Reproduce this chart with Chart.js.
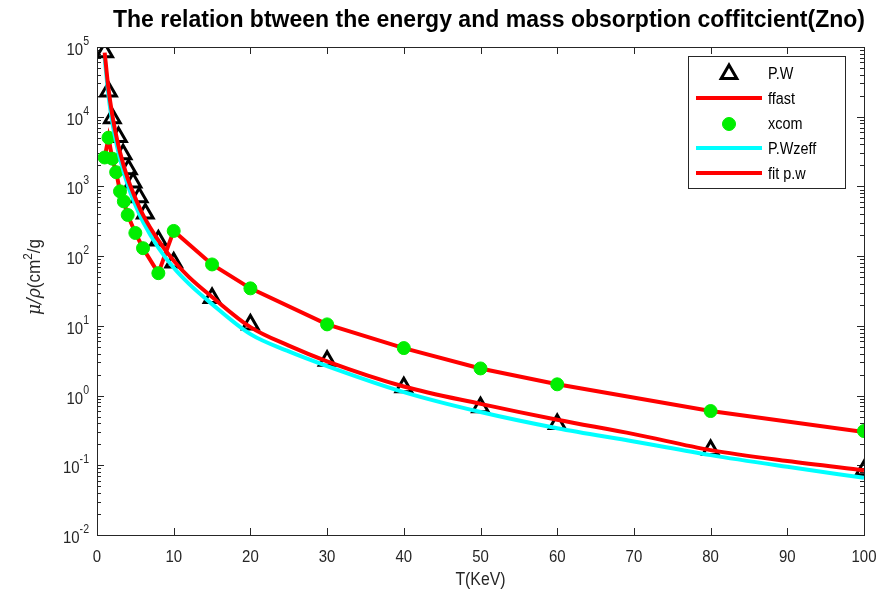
<!DOCTYPE html>
<html>
<head>
<meta charset="utf-8">
<script src="https://cdn.jsdelivr.net/npm/chart.js@4.4.1/dist/chart.umd.min.js"></script>
<style>
  html, body { margin: 0; padding: 0; background: #fff; }
  #wrap { width: 880px; height: 591px; }
</style>
</head>
<body>
<div id="wrap"><canvas id="chart" width="880" height="591"></canvas></div>
<script>
// ---- data ----
const pwEnergy = [1, 1.5, 2, 2.8, 3.4, 4.1, 4.7, 5.5, 6.3, 8, 10, 15, 20, 30, 40, 50, 60, 80, 100];
const pwValues = [84000, 23000, 9500, 5100, 2900, 1770, 1140, 700, 410, 168, 81, 25, 10.5, 3.15, 1.32, 0.68, 0.39, 0.165, 0.085];

const xcomEnergy = [1, 1.5, 2, 2.5, 3, 3.5, 4, 5, 6, 8, 10, 15, 20, 30, 40, 50, 60, 80, 100];
const xcomValues = [2600, 5000, 2500, 1600, 850, 610, 390, 215, 130, 57, 230, 76, 34.5, 10.5, 4.8, 2.45, 1.45, 0.6, 0.31];

const ffastEnergy = [1, 1.5, 2, 2.5, 3, 3.5, 4, 5, 6, 8, 10, 15, 20, 30, 40, 50, 60, 80, 100];
const ffastValues = [2600, 5000, 2500, 1600, 850, 610, 390, 215, 130, 57, 230, 76, 34.5, 10.5, 4.8, 2.45, 1.45, 0.6, 0.3];

const fitEnergy = [1, 1.5, 2, 2.5, 3, 4, 5, 6, 8, 10, 12, 15, 20, 25, 30, 40, 50, 60, 70, 80, 90, 100];
const fitValues = [83000, 25000, 10500, 5400, 3100, 1300, 680, 390, 168, 86, 50, 26, 9.6, 5.2, 3.1, 1.35, 0.76, 0.45, 0.28, 0.165, 0.115, 0.085];
const zeffValues = [70000, 20000, 8300, 4300, 2500, 1050, 540, 310, 132, 68, 40, 20.5, 7.6, 4.3, 2.65, 1.12, 0.58, 0.34, 0.22, 0.14, 0.095, 0.066];

const xTicks = [0, 10, 20, 30, 40, 50, 60, 70, 80, 90, 100];
const yTickExps = [-2, -1, 0, 1, 2, 3, 4, 5];

const titleText = "The relation btween the energy and mass obsorption coffitcient(Zno)";
const xLabel = "T(KeV)";

const pairs = (xs, ys) => xs.map((x, i) => ({ x: x, y: ys[i] }));

const AX = "#262626";
const FONT = "'Liberation Sans', Arial, sans-serif";

// text squeezed/stretched horizontally by sx
function drawText(ctx, txt, x, y, font, align, sx) {
  ctx.save();
  ctx.font = font;
  ctx.textBaseline = "alphabetic";
  const w = ctx.measureText(txt).width * sx;
  let left = x;
  if (align === "center") left = x - w / 2;
  if (align === "right") left = x - w;
  ctx.translate(left, y);
  ctx.scale(sx, 1);
  ctx.textAlign = "left";
  ctx.fillText(txt, 0, 0);
  ctx.restore();
  return w;
}

function textWidth(ctx, txt, font) {
  ctx.save();
  ctx.font = font;
  const w = ctx.measureText(txt).width;
  ctx.restore();
  return w;
}

const matlabAxes = {
  id: "matlabAxes",
  beforeDatasetsDraw(chart) {
    const ctx = chart.ctx;
    const a = chart.chartArea;
    const xs = chart.scales.x, ys = chart.scales.y;
    ctx.save();
    ctx.strokeStyle = AX;
    ctx.lineWidth = 1;
    ctx.beginPath();
    // x ticks top and bottom
    xTicks.forEach(v => {
      const px = Math.round(xs.getPixelForValue(v)) + 0.5;
      ctx.moveTo(px, a.bottom); ctx.lineTo(px, a.bottom - 7);
      ctx.moveTo(px, a.top); ctx.lineTo(px, a.top + 7);
    });
    // y ticks, major and minor
    for (let e = yTickExps[0]; e <= yTickExps[yTickExps.length - 1]; e++) {
      for (let m = 1; m <= 9; m++) {
        if (e === yTickExps[yTickExps.length - 1] && m > 1) break;
        const py = Math.round(ys.getPixelForValue(m * Math.pow(10, e))) + 0.5;
        const len = m === 1 ? 7 : 4;
        ctx.moveTo(a.left, py); ctx.lineTo(a.left + len, py);
        ctx.moveTo(a.right, py); ctx.lineTo(a.right - len, py);
      }
    }
    ctx.stroke();
    ctx.restore();
  },
  afterDatasetsDraw(chart) {
    const ctx = chart.ctx;
    const a = chart.chartArea;
    const xs = chart.scales.x, ys = chart.scales.y;
    ctx.save();
    ctx.strokeStyle = AX;
    ctx.lineWidth = 1;
    ctx.strokeRect(Math.round(a.left) + 0.5, Math.round(a.top) + 0.5,
      Math.round(a.right - a.left), Math.round(a.bottom - a.top));

    ctx.fillStyle = AX;
    // x tick labels
    xTicks.forEach(v => {
      drawText(ctx, String(v), xs.getPixelForValue(v), a.bottom + 27, "17px " + FONT, "center", 0.88);
    });
    // y tick labels 10^e
    yTickExps.forEach(e => {
      const py = ys.getPixelForValue(Math.pow(10, e));
      const expW = textWidth(ctx, String(e), "12px " + FONT) * 0.88;
      const right = a.left - 8;
      drawText(ctx, String(e), right, py - 2, "12px " + FONT, "right", 0.88);
      drawText(ctx, "10", right - expW, py + 8, "17px " + FONT, "right", 0.88);
    });
    // axis titles
    drawText(ctx, xLabel, (a.left + a.right) / 2, a.bottom + 50, "18px " + FONT, "center", 0.88);

    ctx.save();
    ctx.translate(40, 277);
    ctx.rotate(-Math.PI / 2);
    const fMu = "italic 19px 'DejaVu Serif', serif";
    const fTx = "19px " + FONT;
    const fSup = "13px " + FONT;
    const total = (textWidth(ctx, "\u03bc/\u03c1", fMu) + textWidth(ctx, "(cm", fTx) +
      textWidth(ctx, "2", fSup) + textWidth(ctx, "/g", fTx)) * 0.9;
    let x0 = -total / 2;
    x0 += drawText(ctx, "\u03bc/\u03c1", x0, 0, fMu, "left", 0.9);
    x0 += drawText(ctx, "(cm", x0, 0, fTx, "left", 0.9);
    x0 += drawText(ctx, "2", x0, -8, fSup, "left", 0.9);
    drawText(ctx, "/g", x0, 0, fTx, "left", 0.9);
    ctx.restore();

    // title
    ctx.fillStyle = "#000";
    const fTitle = "bold 23px " + FONT;
    const tsx = 752 / textWidth(ctx, titleText, fTitle);
    drawText(ctx, titleText, 489, 27, fTitle, "center", tsx);

    // legend box
    const lx = 688, ly = 56, lw = 157, lh = 132;
    ctx.fillStyle = "#fff";
    ctx.fillRect(lx, ly, lw, lh);
    ctx.strokeStyle = AX;
    ctx.lineWidth = 1;
    ctx.strokeRect(lx + 0.5, ly + 0.5, lw, lh);
    chart.data.datasets.forEach((ds, i) => {
      const cy = ly + 17 + i * 25;
      if (ds.showLine === false) {
        ctx.save();
        ctx.lineWidth = ds.borderWidth;
        ctx.strokeStyle = ds.borderColor;
        ctx.fillStyle = ds.backgroundColor;
        Chart.helpers.drawPoint(ctx, { pointStyle: ds.pointStyle, radius: ds.pointRadius, borderWidth: ds.borderWidth, rotation: 0 }, 729, cy + 1);
        ctx.restore();
      } else {
        ctx.save();
        ctx.strokeStyle = ds.borderColor;
        ctx.lineWidth = ds.borderWidth;
        ctx.beginPath();
        ctx.moveTo(696, cy); ctx.lineTo(762, cy);
        ctx.stroke();
        ctx.restore();
      }
      ctx.fillStyle = "#000";
      drawText(ctx, ds.label, 768, cy + 6, "16px " + FONT, "left", 0.9);
    });
    ctx.restore();
  }
};

new Chart(document.getElementById("chart"), {
  type: "scatter",
  data: {
    datasets: [
      {
        label: "P.W",
        data: pairs(pwEnergy, pwValues),
        showLine: false,
        pointStyle: "triangle",
        pointRadius: 9,
        borderColor: "#000",
        backgroundColor: "rgba(0,0,0,0)",
        borderWidth: 3,
        order: 5
      },
      {
        label: "ffast",
        data: pairs(ffastEnergy, ffastValues),
        showLine: true,
        borderColor: "#ff0000",
        borderWidth: 4,
        pointRadius: 0,
        order: 4
      },
      {
        label: "xcom",
        data: pairs(xcomEnergy, xcomValues),
        showLine: false,
        pointStyle: "circle",
        pointRadius: 6.5,
        borderColor: "#00ee00",
        backgroundColor: "#00ee00",
        borderWidth: 1,
        order: 3
      },
      {
        label: "P.Wzeff",
        data: pairs(fitEnergy, zeffValues),
        showLine: true,
        borderColor: "#00ffff",
        borderWidth: 4,
        pointRadius: 0,
        cubicInterpolationMode: "monotone",
        order: 2
      },
      {
        label: "fit p.w",
        data: pairs(fitEnergy, fitValues),
        showLine: true,
        borderColor: "#ff0000",
        borderWidth: 4,
        pointRadius: 0,
        cubicInterpolationMode: "monotone",
        order: 1
      }
    ]
  },
  options: {
    responsive: false,
    animation: false,
    devicePixelRatio: 1,
    layout: { padding: { left: 97, right: 16, top: 47, bottom: 56 } },
    plugins: {
      legend: { display: false },
      tooltip: { enabled: false },
      title: { display: false }
    },
    scales: {
      x: { type: "linear", min: 0, max: 100, display: false },
      y: { type: "logarithmic", min: 0.01, max: 100000, display: false }
    }
  },
  plugins: [matlabAxes]
});
</script>
</body>
</html>
